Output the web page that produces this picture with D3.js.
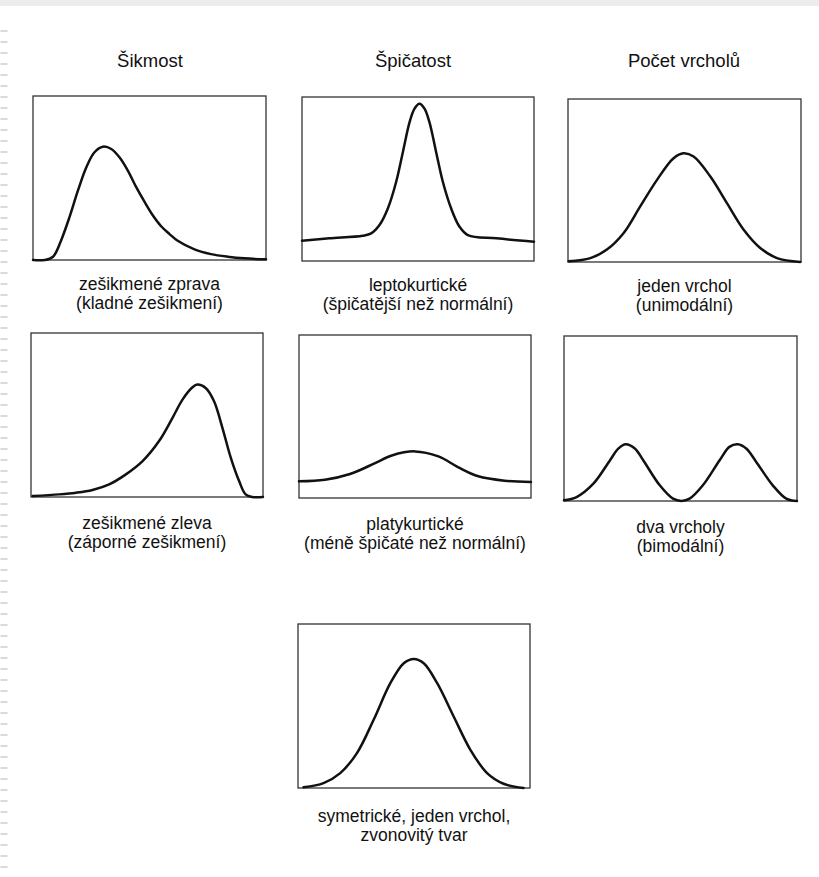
<!DOCTYPE html>
<html>
<head>
<meta charset="utf-8">
<script src="https://cdn.jsdelivr.net/npm/d3@7"></script>
<style>
  html, body { margin: 0; padding: 0; background: #fff; }
  svg { display: block; }
  text { font-family: "Liberation Sans", Arial, Helvetica, sans-serif; fill: #111; }
</style>
</head>
<body>
<div id="chart"></div>
<script>
// ---- column titles ----
const columnTitles = ["Šikmost", "Špičatost", "Počet vrcholů"];

// ---- panel captions ----
const captions = [
  ["zešikmené zprava", "(kladné zešikmení)"],
  ["leptokurtické", "(špičatější než normální)"],
  ["jeden vrchol", "(unimodální)"],
  ["zešikmené zleva", "(záporné zešikmení)"],
  ["platykurtické", "(méně špičaté než normální)"],
  ["dva vrcholy", "(bimodální)"],
  ["symetrické, jeden vrchol,", "zvonovitý tvar"]
];

// ---- curve values (x: 0..1 across the box, y: 0..1 of box height) ----
const skewRightX = [0, 0.05, 0.086, 0.121, 0.157, 0.193, 0.229, 0.264, 0.30, 0.336, 0.371, 0.407, 0.443, 0.479, 0.514, 0.55, 0.586, 0.621, 0.693, 0.764, 0.836, 0.907, 1.0];
const skewRightY = [0, 0, 0.02, 0.121, 0.263, 0.424, 0.566, 0.657, 0.691, 0.677, 0.626, 0.545, 0.444, 0.354, 0.273, 0.206, 0.158, 0.117, 0.065, 0.036, 0.02, 0.01, 0.004];

const leptoX = [0, 0.118, 0.262, 0.298, 0.334, 0.37, 0.406, 0.435, 0.464, 0.485, 0.506, 0.528, 0.549, 0.578, 0.607, 0.643, 0.679, 0.715, 0.838, 1.0];
const leptoY = [0.124, 0.138, 0.154, 0.168, 0.219, 0.32, 0.483, 0.665, 0.848, 0.929, 0.959, 0.929, 0.848, 0.665, 0.483, 0.32, 0.209, 0.158, 0.138, 0.118];

const unimodalX = [0.003, 0.096, 0.167, 0.239, 0.31, 0.382, 0.453, 0.496, 0.539, 0.611, 0.682, 0.754, 0.825, 0.897, 0.997];
const unimodalY = [0.004, 0.024, 0.076, 0.178, 0.341, 0.504, 0.637, 0.667, 0.647, 0.524, 0.361, 0.198, 0.086, 0.024, 0];

const skewLeftX = [0.007, 0.122, 0.194, 0.265, 0.337, 0.409, 0.481, 0.552, 0.61, 0.653, 0.696, 0.717, 0.753, 0.789, 0.825, 0.861, 0.897, 0.925, 0.954, 1.0];
const skewLeftY = [0.006, 0.016, 0.026, 0.043, 0.077, 0.138, 0.219, 0.341, 0.483, 0.594, 0.669, 0.686, 0.665, 0.584, 0.422, 0.24, 0.097, 0.016, 0, 0];

const platyX = [0, 0.112, 0.22, 0.328, 0.40, 0.50, 0.601, 0.687, 0.773, 0.888, 1.0];
const platyY = [0.102, 0.112, 0.147, 0.214, 0.261, 0.286, 0.255, 0.188, 0.133, 0.106, 0.098];

const bimodalX = [0, 0.054, 0.126, 0.197, 0.233, 0.265, 0.304, 0.34, 0.411, 0.468, 0.504, 0.539, 0.596, 0.668, 0.71, 0.746, 0.782, 0.825, 0.896, 0.954, 1.0];
const bimodalY = [0.004, 0.024, 0.105, 0.246, 0.317, 0.344, 0.318, 0.247, 0.095, 0.014, 0, 0.014, 0.095, 0.247, 0.328, 0.344, 0.318, 0.237, 0.095, 0.014, 0];

const bellX = [0.024, 0.11, 0.182, 0.254, 0.326, 0.398, 0.456, 0.499, 0.542, 0.60, 0.671, 0.743, 0.815, 0.886, 0.972];
const bellY = [0.004, 0.030, 0.091, 0.213, 0.416, 0.639, 0.761, 0.787, 0.761, 0.639, 0.436, 0.233, 0.091, 0.026, 0];

const seriesX = [skewRightX, leptoX, unimodalX, skewLeftX, platyX, bimodalX, bellX];
const seriesY = [skewRightY, leptoY, unimodalY, skewLeftY, platyY, bimodalY, bellY];

// ---- layout (pixel boxes of each panel) ----
const boxes = [
  {l: 33,  t: 96,  r: 266, b: 260},
  {l: 302, t: 97,  r: 534, b: 261},
  {l: 568, t: 99,  r: 801, b: 262},
  {l: 31,  t: 333, r: 263, b: 497},
  {l: 299, t: 335, r: 531, b: 498},
  {l: 564, t: 336, r: 797, b: 501},
  {l: 298, t: 624, r: 530, b: 788}
];
const captionOffsets = [[30, 49], [30, 49], [30, 49], [32, 51], [32, 51], [32, 51], [34, 53]];
const titleX = [150, 413, 684];

const W = 819, H = 877;
const svg = d3.select("#chart").append("svg").attr("width", W).attr("height", H);

// scan artifacts: faint top band and left dashed margin
svg.append("rect").attr("x", 0).attr("y", 0).attr("width", W).attr("height", 6).attr("fill", "#ececec");
svg.append("line").attr("x1", 4).attr("x2", 4).attr("y1", 30).attr("y2", H)
  .attr("stroke", "#dadada").attr("stroke-width", 7).attr("stroke-dasharray", "2,9");

// titles
svg.selectAll("text.title").data(columnTitles).join("text")
  .attr("class", "title")
  .attr("x", (d, i) => titleX[i]).attr("y", 67)
  .attr("text-anchor", "middle").attr("font-size", 18.5)
  .text(d => d);

const line = d3.line().curve(d3.curveCatmullRom.alpha(0.5));

boxes.forEach((bx, i) => {
  const x = d3.scaleLinear().domain([0, 1]).range([bx.l, bx.r]);
  const y = d3.scaleLinear().domain([0, 1]).range([bx.b, bx.t]);
  const g = svg.append("g");
  g.append("rect")
    .attr("x", x(0)).attr("y", y(1))
    .attr("width", x(1) - x(0)).attr("height", y(0) - y(1))
    .attr("fill", "none").attr("stroke", "#333").attr("stroke-width", 1.3);
  const pts = seriesX[i].map((v, k) => [x(v), y(seriesY[i][k])]);
  g.append("path").attr("d", line(pts))
    .attr("fill", "none").attr("stroke", "#111").attr("stroke-width", 2.5)
    .attr("stroke-linejoin", "round").attr("stroke-linecap", "round");
  const cx = (x(0) + x(1)) / 2;
  captions[i].forEach((c, k) => {
    g.append("text").attr("x", cx).attr("y", bx.b + captionOffsets[i][k])
      .attr("text-anchor", "middle").attr("font-size", 17.5).text(c);
  });
});
</script>
</body>
</html>
